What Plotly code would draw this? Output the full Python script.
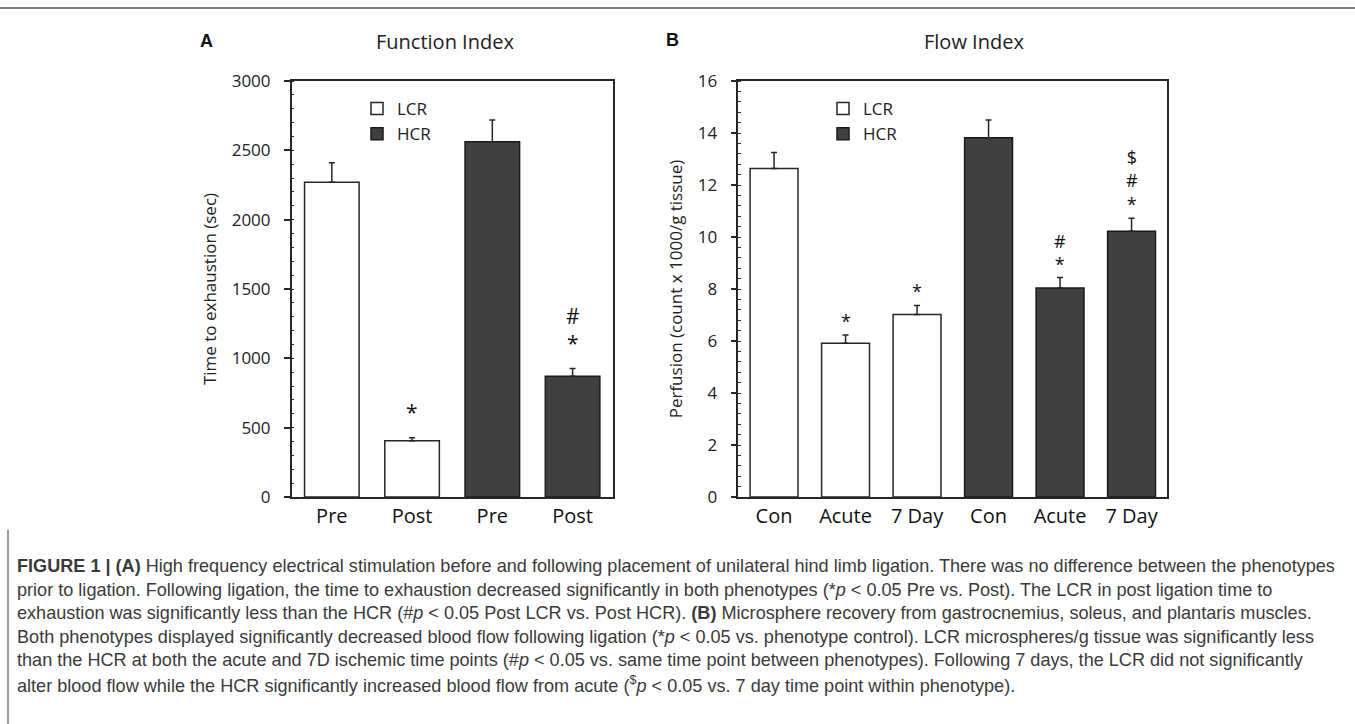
import plotly.graph_objects as go

# ---------------- data ----------------
cats_a = ["Pre", "Post", "Pre", "Post"]
a_lcr = [2270, 406]
a_lcr_err = [140, 22]
a_hcr = [2561, 871]
a_hcr_err = [157, 55]
sig_a = ["", "*", "", "*#"]          # symbols stacked bottom-up

cats_b = ["Con", "Acute", "7 Day", "Con", "Acute", "7 Day"]
b_lcr = [12.63, 5.91, 7.02]
b_lcr_err = [0.62, 0.32, 0.35]
b_hcr = [13.82, 8.04, 10.22]
b_hcr_err = [0.68, 0.40, 0.50]
sig_b = ["", "*", "*", "", "*#", "*#$"]

caption_lines = [
    "<b>FIGURE 1 | (A)</b> High frequency electrical stimulation before and following placement of unilateral hind limb ligation. There was no difference between the phenotypes",
    "prior to ligation. Following ligation, the time to exhaustion decreased significantly in both phenotypes (*<i>p</i> &lt; 0.05 Pre vs. Post). The LCR in post ligation time to",
    "exhaustion was significantly less than the HCR (#<i>p</i> &lt; 0.05 Post LCR vs. Post HCR). <b>(B)</b> Microsphere recovery from gastrocnemius, soleus, and plantaris muscles.",
    "Both phenotypes displayed significantly decreased blood flow following ligation (*<i>p</i> &lt; 0.05 vs. phenotype control). LCR microspheres/g tissue was significantly less",
    "than the HCR at both the acute and 7D ischemic time points (#<i>p</i> &lt; 0.05 vs. same time point between phenotypes). Following 7 days, the LCR did not significantly",
    "alter blood flow while the HCR significantly increased blood flow from acute (<sup>$</sup><i>p</i> &lt; 0.05 vs. 7 day time point within phenotype).",
]

# ---------------- helpers ----------------
W, H = 1355, 724
def px(x): return x / W
def py(y): return 1 - y / H

CH = "Open Sans, Noto Sans, sans-serif"
CAP = "Liberation Sans, Arial, sans-serif"
DARK = "#262626"
HCR_FILL = "#404040"

fig = go.Figure()

def add_panel(lcr, lcr_err, hcr, hcr_err, xa, ya, leg, bw):
    n1 = len(lcr)
    xl = list(range(n1))
    xh = list(range(n1, n1 + len(hcr)))
    fig.add_trace(go.Bar(
        x=xl, y=lcr, name="LCR", width=bw, xaxis=xa, yaxis=ya, legend=leg,
        marker=dict(color="white", line=dict(color=DARK, width=1.5)),
        error_y=dict(type="data", array=lcr_err, arrayminus=[0] * n1, symmetric=False,
                     color=DARK, thickness=1.5, width=3),
    ))
    fig.add_trace(go.Bar(
        x=xh, y=hcr, name="HCR", width=bw, xaxis=xa, yaxis=ya, legend=leg,
        marker=dict(color=HCR_FILL, line=dict(color="#1a1a1a", width=1.5)),
        error_y=dict(type="data", array=hcr_err, arrayminus=[0] * len(hcr), symmetric=False,
                     color=DARK, thickness=1.5, width=3),
    ))

add_panel(a_lcr, a_lcr_err, a_hcr, a_hcr_err, "x", "y", "legend", 0.68)
add_panel(b_lcr, b_lcr_err, b_hcr, b_hcr_err, "x2", "y2", "legend2", 0.67)

def xaxis_cfg(cats, dom):
    return dict(domain=dom, range=[-0.5, len(cats) - 0.5], tickmode="array",
                tickvals=list(range(len(cats))), ticktext=cats, ticks="",
                showline=True, mirror=True, linecolor=DARK, linewidth=1.5,
                showgrid=False, zeroline=False, ticklabelstandoff=0, automargin=False,
                tickfont=dict(family=CH, size=20, color="#111"), fixedrange=True)

def yaxis_cfg(rng, dtick, mdtick, dom, title, standoff):
    return dict(domain=dom, range=rng, dtick=dtick, ticks="outside", ticklen=6,
                tickwidth=1.5, tickcolor=DARK,
                minor=dict(dtick=mdtick, ticks="inside", ticklen=3, tickwidth=1.2, tickcolor=DARK),
                showline=True, mirror=True, linecolor=DARK, linewidth=1.5,
                showgrid=False, zeroline=False, ticklabelstandoff=10, automargin=False,
                tickfont=dict(family=CH, size=17, color="#222"),
                title=dict(text=title, font=dict(family=CH, size=17, color="#222"), standoff=standoff),
                fixedrange=True)

ydom = [py(497), py(81)]
fig.update_layout(
    template="none",
    width=W, height=H, margin=dict(l=0, r=0, t=0, b=0, pad=0, autoexpand=False),
    paper_bgcolor="white", plot_bgcolor="white", barmode="overlay",
    xaxis=xaxis_cfg(cats_a, [px(291.7), px(612.7)]),
    yaxis=yaxis_cfg([0, 3000], 500, 100, ydom, "Time to exhaustion (sec)", 11),
    xaxis2=dict(xaxis_cfg(cats_b, [px(738.3), px(1167.3)]), anchor="y2"),
    yaxis2=dict(yaxis_cfg([0, 16], 2, 0.4, ydom, "Perfusion (count x 1000/g tissue)", 11), anchor="x2"),
    legend=dict(x=px(357), y=py(91), xanchor="left", yanchor="top", bgcolor="rgba(0,0,0,0)",
                font=dict(family=CH, size=17, color="#222"), tracegroupgap=0),
    legend2=dict(x=px(823), y=py(91), xanchor="left", yanchor="top", bgcolor="rgba(0,0,0,0)",
                 font=dict(family=CH, size=17, color="#222"), tracegroupgap=0),
    showlegend=True,
)

# significance marks (stacked, bottom-up)
def add_sig(vals, errs, sigs, xa, ya, gap, fsize):
    for i, (v, e, s) in enumerate(zip(vals, errs, sigs)):
        if not s:
            continue
        fig.add_annotation(x=i, y=v + e, xref=xa, yref=ya, text="<br>".join(reversed(list(s))),
                           showarrow=False, xanchor="center", yanchor="bottom", yshift=gap,
                           font=dict(family=CH, size=fsize, color="#111"))

add_sig(a_lcr + a_hcr, a_lcr_err + a_hcr_err, sig_a, "x", "y", 10, 21)
add_sig(b_lcr + b_hcr, b_lcr_err + b_hcr_err, sig_b, "x2", "y2", 0, 18)

# panel labels and titles
def txt(x, y, s, font):
    fig.add_annotation(x=px(x), y=py(y), xref="paper", yref="paper", text=s, showarrow=False,
                       xanchor="center", yanchor="middle", font=font)

txt(206, 41, "<b>A</b>", dict(family=CAP, size=18, color="#111"))
txt(445, 41, "Function Index", dict(family=CH, size=20, color="#222"))
txt(672, 40, "<b>B</b>", dict(family=CAP, size=18, color="#111"))
txt(974, 41, "Flow Index", dict(family=CH, size=20, color="#222"))

# caption
for i, line in enumerate(caption_lines):
    fig.add_annotation(x=px(15), y=py(566 + 23.6 * i), xref="paper", yref="paper", text=line,
                       showarrow=False, xanchor="left", yanchor="middle", align="left",
                       font=dict(family=CAP, size=18.1, color="#3a3a3a"))

# frame lines of the figure page
fig.add_shape(type="line", xref="paper", yref="paper", x0=0, x1=1, y0=py(8), y1=py(8),
              line=dict(color="#555", width=1.5))
fig.add_shape(type="line", xref="paper", yref="paper", x0=px(8), x1=px(8), y0=py(530), y1=0,
              line=dict(color="#777", width=1.5))

fig.write_html("out.html", config={"displayModeBar": False},
               post_script="document.body.style.margin='0px';")
